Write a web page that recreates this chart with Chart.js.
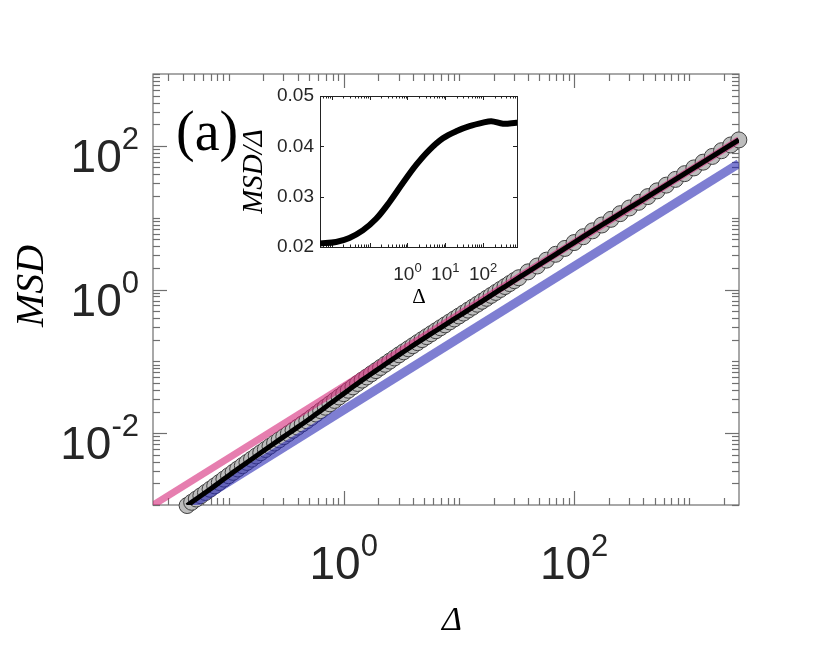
<!DOCTYPE html>
<html>
<head>
<meta charset="utf-8">
<script src="https://cdn.jsdelivr.net/npm/chart.js@4.4.0/dist/chart.umd.min.js"></script>
<style>
body { margin: 0; background: #fff; }
#wrap { position: relative; width: 822px; height: 669px; }
canvas { position: absolute; left: 0; top: 0; }
</style>
</head>
<body>
<div id="wrap">
<canvas id="main" width="822" height="669"></canvas>
<canvas id="inset" width="822" height="669"></canvas>
</div>
<script>
//Datos principales (MSD vs Delta)
var delta = [0.0437, 0.04786, 0.0525, 0.05754, 0.0631, 0.06918, 0.0759, 0.08318, 0.0912, 0.1000,
    0.1096, 0.1202, 0.1318, 0.1445, 0.1585, 0.1738, 0.1905, 0.2089, 0.2291, 0.2512,
    0.2754, 0.3020, 0.3311, 0.3631, 0.3981, 0.4365, 0.4786, 0.5248, 0.5754, 0.6310,
    0.6918, 0.7586, 0.8318, 0.9120, 1.000, 1.096, 1.202, 1.318, 1.445, 1.585,
    1.738, 1.905, 2.089, 2.291, 2.512, 2.754, 3.020, 3.311, 3.631, 3.981,
    4.365, 4.786, 5.248, 5.754, 6.310, 6.918, 7.586, 8.318, 9.120, 10.00,
    10.96, 12.02, 13.18, 14.45, 15.85, 17.38, 19.05, 20.89, 22.91, 25.12,
    27.54, 30.20, 33.11, 39.81, 47.86, 57.54, 69.18, 83.18, 100.0, 120.2,
    144.5, 173.8, 208.9, 251.2, 302.0, 363.1, 436.5, 524.8, 631.0, 758.6,
    912.0, 1096, 1318, 1585, 1905, 2291, 2692];
var msd = [0.000983, 0.001091, 0.001211, 0.001344, 0.001492, 0.001655, 0.001845, 0.002057, 0.002293, 0.002556,
    0.002848, 0.003172, 0.003527, 0.003913, 0.004343, 0.004818, 0.005342, 0.005924, 0.006571, 0.007285,
    0.008067, 0.008936, 0.009893, 0.01095, 0.01213, 0.01343, 0.01486, 0.01653, 0.01845, 0.02059,
    0.02297, 0.02563, 0.02857, 0.03186, 0.0355, 0.03958, 0.04415, 0.04921, 0.05475, 0.06063,
    0.06712, 0.07426, 0.08220, 0.09098, 0.1007, 0.1114, 0.1232, 0.1358, 0.1497, 0.1650,
    0.1819, 0.2005, 0.2207, 0.2425, 0.2666, 0.2930, 0.3220, 0.3539, 0.3890, 0.4275,
    0.4696, 0.5163, 0.5674, 0.6235, 0.6855, 0.7536, 0.8281, 0.9102, 1.001, 1.100,
    1.209, 1.329, 1.459, 1.761, 2.124, 2.563, 3.092, 3.731, 4.500, 5.431,
    6.555, 7.903, 9.478, 11.37, 13.64, 16.36, 19.64, 23.61, 28.38, 34.11,
    41.00, 49.27, 59.23, 71.21, 85.57, 102.9, 120.9];

//Rectas de referencia
var pinkDelta = [0.0221, 2700];
var pinkMsd = [0.000995, 121.5];
var blueDelta = [0.047, 2700];
var blueMsd = [0.00099, 56.7];

//Inset (MSD/Delta)
var insetDelta = [0.0049, 0.0130, 0.0292, 0.0661, 0.149, 0.334, 0.755, 1.70, 3.82, 8.64,
    19.4, 43.7, 98.8, 164, 334, 751, 783];
var insetRatio = [0.0207, 0.0210, 0.0218, 0.0233, 0.0256, 0.0289, 0.0327, 0.0363, 0.0393, 0.0416,
    0.0430, 0.0440, 0.0447, 0.0450, 0.0445, 0.0447, 0.0447];

//Etiquetas de ejes
var xTickExp = [0, 2];
var yTickExp = [-2, 0, 2];
var insetYTicks = [0.02, 0.03, 0.04, 0.05];
var insetYLabels = ['0.02', '0.03', '0.04', '0.05'];
var insetXTickExp = [0, 1, 2];

    function pts(xs, ys) {
        var out = [];
        for (var i = 0; i < xs.length; i++) out.push({x: xs[i], y: ys[i]});
        return out;
    }

    function line(c, x1, y1, x2, y2) {
        c.beginPath();
        c.moveTo(x1, y1);
        c.lineTo(x2, y2);
        c.stroke();
    }

    function drawPow(c, e, x, y, align, big, small, lift) {
        c.font = big + 'px "Liberation Sans"';
        var w1 = c.measureText('10').width;
        c.font = small + 'px "Liberation Sans"';
        var w2 = c.measureText(String(e)).width;
        var x0 = align === 'right' ? x - w1 - w2 : x - (w1 + w2) / 2;
        c.textAlign = 'left';
        c.textBaseline = 'alphabetic';
        c.font = big + 'px "Liberation Sans"';
        c.fillText('10', x0, y);
        c.font = small + 'px "Liberation Sans"';
        c.fillText(String(e), x0 + w1, y - lift);
    }

    // ticks logaritmicos hacia adentro
    function logTicks(c, scale, a, horiz, majors, bigLen, smallLen) {
        var lo = Math.floor(Math.log10(scale.min)), hi = Math.ceil(Math.log10(scale.max));
        for (var n = lo; n <= hi; n++) {
            for (var m = 1; m <= 9; m++) {
                var v = m * Math.pow(10, n);
                if (v < scale.min * 0.999 || v > scale.max * 1.001) continue;
                var p = Math.round(scale.getPixelForValue(v)) + 0.5;
                var len = (m === 1 && majors.indexOf(n) >= 0) ? bigLen : smallLen;
                if (horiz) {
                    line(c, p, a.bottom, p, a.bottom - len);
                    line(c, p, a.top, p, a.top + len);
                } else {
                    line(c, a.left, p, a.left + len, p);
                    line(c, a.right, p, a.right - len, p);
                }
            }
        }
    }

var mainAxes = {
    id: 'mainAxes',
    beforeDatasetsDraw: function(chart) {
        var c = chart.ctx, a = chart.chartArea;
        c.save();
        c.strokeStyle = '#6f6f6f';
        c.lineWidth = 1.2;
        logTicks(c, chart.scales.x, a, true, xTickExp, 14, 7);
        logTicks(c, chart.scales.y, a, false, yTickExp, 14, 7);
        c.strokeRect(a.left, a.top, a.right - a.left, a.bottom - a.top);
        c.restore();
    },
    afterDraw: function(chart) {
        var c = chart.ctx;
        c.save();
        c.fillStyle = '#262626';
        for (var i = 0; i < xTickExp.length; i++) {
            var px = chart.scales.x.getPixelForValue(Math.pow(10, xTickExp[i]));
            drawPow(c, xTickExp[i], px, 579, 'center', 46, 31, 23);
        }
        for (var j = 0; j < yTickExp.length; j++) {
            var py = chart.scales.y.getPixelForValue(Math.pow(10, yTickExp[j]));
            drawPow(c, yTickExp[j], 139, py + 26, 'right', 46, 31, 23);
        }
        c.fillStyle = '#000';
        c.font = '56px "Liberation Serif"';
        c.textAlign = 'left';
        c.fillText('(a)', 176, 150);
        c.font = 'italic 34px "Liberation Serif"';
        c.textAlign = 'center';
        c.fillText('\u0394', 452, 630);
        c.translate(43, 286);
        c.rotate(-Math.PI / 2);
        c.font = 'italic 40px "Liberation Serif"';
        c.fillText('MSD', 0, 0);
        c.restore();
    }
};

var insetAxes = {
    id: 'insetAxes',
    beforeDatasetsDraw: function(chart) {
        var c = chart.ctx, a = chart.chartArea;
        c.save();
        c.fillStyle = '#fff';
        c.fillRect(a.left, a.top, a.right - a.left, a.bottom - a.top);
        c.strokeStyle = '#222';
        c.lineWidth = 1;
        logTicks(c, chart.scales.x, a, true, [-2, -1, 0, 1, 2], 4, 2.5);
        for (var i = 0; i < insetYTicks.length; i++) {
            var py = Math.round(chart.scales.y.getPixelForValue(insetYTicks[i])) + 0.5;
            line(c, a.left, py, a.left + 4, py);
            line(c, a.right, py, a.right - 4, py);
        }
        c.strokeRect(a.left + 0.5, a.top + 0.5, a.right - a.left, a.bottom - a.top);
        c.restore();
    },
    afterDraw: function(chart) {
        var c = chart.ctx;
        c.save();
        c.fillStyle = '#262626';
        c.font = '19px "Liberation Sans"';
        c.textAlign = 'right';
        c.textBaseline = 'middle';
        for (var i = 0; i < insetYTicks.length; i++) {
            c.fillText(insetYLabels[i], 314, chart.scales.y.getPixelForValue(insetYTicks[i]));
        }
        for (var j = 0; j < insetXTickExp.length; j++) {
            var px = chart.scales.x.getPixelForValue(Math.pow(10, insetXTickExp[j]));
            drawPow(c, insetXTickExp[j], px, 280, 'center', 19, 13, 8);
        }
        c.fillStyle = '#000';
        c.textAlign = 'center';
        c.textBaseline = 'alphabetic';
        c.font = '21px "Liberation Serif"';
        c.fillText('\u0394', 419, 303);
        c.translate(262, 171.5);
        c.rotate(-Math.PI / 2);
        c.font = 'italic 29px "Liberation Serif"';
        c.fillText('MSD/\u0394', 0, 0);
        c.restore();
    }
};

//Grafica principal
var ctx = document.getElementById('main').getContext('2d');
var mainChart = new Chart(ctx, {
    type: 'line',
    data: {
        datasets: [{
            label: 'MSD',
            data: pts(delta, msd),
            borderColor: '#000',
            borderWidth: 5,
            pointRadius: 0,
            fill: false,
            order: 0
        }, {
            label: 'long',
            data: pts(pinkDelta, pinkMsd),
            borderColor: 'rgba(214, 40, 122, 0.6)',
            borderWidth: 7,
            pointRadius: 0,
            fill: false,
            order: 1
        }, {
            label: 'short',
            data: pts(blueDelta, blueMsd),
            borderColor: 'rgba(40, 40, 180, 0.6)',
            borderWidth: 9,
            pointRadius: 0,
            fill: false,
            order: 2
        }, {
            label: 'markers',
            data: pts(delta, msd),
            showLine: false,
            pointRadius: 8,
            pointBackgroundColor: '#bdbdbd',
            pointBorderColor: '#404040',
            pointBorderWidth: 1,
            clip: false,
            order: 3
        }]
    },
    options: {
        responsive: false,
        animation: false,
        layout: { padding: { left: 153, right: 83, top: 74, bottom: 164 } },
        plugins: { legend: { display: false }, tooltip: { enabled: false } },
        scales: {
            x: { type: 'logarithmic', min: 0.0221, max: 2700, display: false },
            y: { type: 'logarithmic', min: 0.001, max: 1000, display: false }
        }
    },
    plugins: [mainAxes]
});

//Inset
var ctx2 = document.getElementById('inset').getContext('2d');
var insetChart = new Chart(ctx2, {
    type: 'line',
    data: {
        datasets: [{
            label: 'MSD/Delta',
            data: pts(insetDelta, insetRatio),
            borderColor: '#000',
            borderWidth: 6,
            pointRadius: 0,
            tension: 0.35,
            fill: false
        }]
    },
    options: {
        responsive: false,
        animation: false,
        layout: { padding: { left: 320, right: 305, top: 96, bottom: 422 } },
        plugins: { legend: { display: false }, tooltip: { enabled: false } },
        scales: {
            x: { type: 'logarithmic', min: 0.0049, max: 783, display: false },
            y: { type: 'linear', min: 0.02, max: 0.05, display: false }
        }
    },
    plugins: [insetAxes]
});
</script>
</body>
</html>
